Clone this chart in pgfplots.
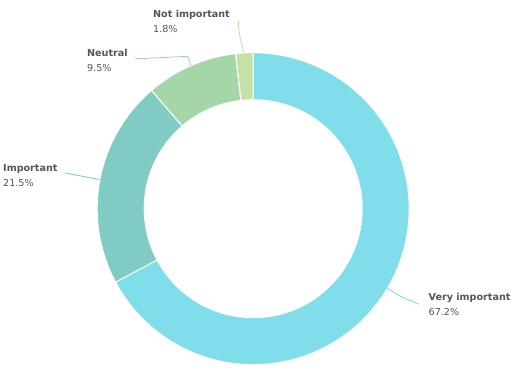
\documentclass[border=0pt]{standalone}
\usepackage{pgfplots}
\pgfplotsset{compat=1.18}
\usepackage{pgfplotstable}
\usepackage{fontspec}
\setmainfont{DejaVu Sans}
\definecolor{cVery}{HTML}{80DEEA}
\definecolor{cImp}{HTML}{80CBC4}
\definecolor{cNeu}{HTML}{A5D6A7}
\definecolor{cNot}{HTML}{C5E1A5}
\definecolor{txt}{HTML}{555555}

\pgfplotstableread{
name value
VeryImportant 67.2
Important 21.5
Neutral 9.5
NotImportant 1.8
}\data
\pgfplotstablegetelem{0}{value}\of\data \let\vA\pgfplotsretval
\pgfplotstablegetelem{1}{value}\of\data \let\vB\pgfplotsretval
\pgfplotstablegetelem{2}{value}\of\data \let\vC\pgfplotsretval
\pgfplotstablegetelem{3}{value}\of\data \let\vD\pgfplotsretval
\pgfmathsetmacro\aA{90}
\pgfmathsetmacro\aB{\aA-3.6*\vA}
\pgfmathsetmacro\aC{\aB-3.6*\vB}
\pgfmathsetmacro\aD{\aC-3.6*\vC}
\pgfmathsetmacro\aE{\aD-3.6*\vD}

\def\cx{253.2}
\def\cy{166.3}
\def\Ro{156}
\def\Ri{109}

\newcommand\donutslice[3]{%
\addplot[fill=#1, draw=white, line width=1bp, domain=0:3, samples=241, variable=\t]
 ({\cx + ((\t<1) ? \Ro : ((\t<2) ? (\Ro-(\Ro-\Ri)*(\t-1)) : \Ri))*cos((\t<1) ? (#2+(#3-#2)*\t) : ((\t<2) ? #3 : (#3+(#2-#3)*(\t-2))))},
  {\cy + ((\t<1) ? \Ro : ((\t<2) ? (\Ro-(\Ro-\Ri)*(\t-1)) : \Ri))*sin((\t<1) ? (#2+(#3-#2)*\t) : ((\t<2) ? #3 : (#3+(#2-#3)*(\t-2))))}) -- cycle;
}

\newcommand\lab[4]{% x, y(baseline of bold), name, pct
\node[anchor=base west, inner sep=0pt, text=txt, font=\fontsize{9.6bp}{11bp}\selectfont\bfseries] at (axis cs:#1,#2) {#3};
\node[anchor=base west, inner sep=0pt, text=txt, font=\fontsize{9.6bp}{11bp}\selectfont] at (axis cs:#1,#2-14.5) {#4};
}

\begin{document}
\begin{tikzpicture}
\begin{axis}[width=511bp, height=375bp, scale only axis,
  xmin=0, xmax=511, ymin=0, ymax=375, hide axis, clip=false]
\path (rel axis cs:0,0) rectangle (rel axis cs:1,1);
\donutslice{cVery}{\aA}{\aB}
\donutslice{cImp}{\aB}{\aC}
\donutslice{cNeu}{\aC}{\aD}
\donutslice{cNot}{\aD}{\aE}

% connectors
\addplot[cNot, line width=0.9bp, smooth] coordinates {(238.3,354.3) (239.3,342) (241.5,332) (243.8,322.3)};
\addplot[cNeu, line width=0.9bp, smooth] coordinates {(135,316.2) (160,317.3) (185,318.4) (188.5,317) (190.6,309.6)};
\addplot[cImp, line width=0.9bp] coordinates {(65,202) (99.5,195.5)};
\addplot[cVery, line width=0.9bp, smooth] coordinates {(387.5,87) (400,79) (419.3,70.7)};

\lab{153}{357.2}{Not important}{1.8\%}
\lab{87}{318}{Neutral}{9.5\%}
\lab{3}{203}{Important}{21.5\%}
\lab{428.5}{74}{Very important}{67.2\%}
\end{axis}
\end{tikzpicture}
\end{document}
